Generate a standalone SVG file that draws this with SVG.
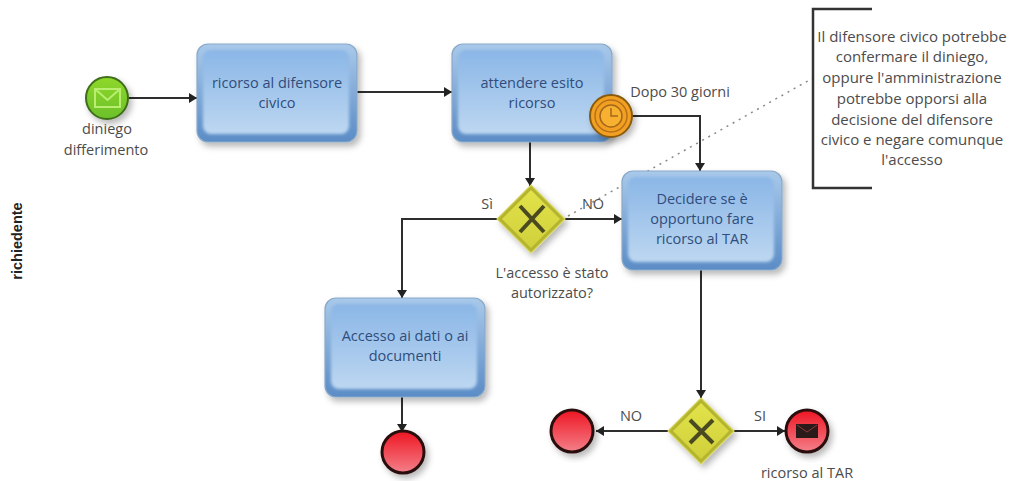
<svg xmlns="http://www.w3.org/2000/svg" width="1011" height="481" viewBox="0 0 1011 481">
<style>
text{font-family:"Open Sans","Liberation Sans",sans-serif;text-anchor:middle}
.t{font-size:14.5px;fill:#2f4d7c}
.l{font-size:14.5px;fill:#4c4c4c}
.a{font-size:15px;fill:#4c4c4c}
.c{fill:none;stroke:#2e2e2e;stroke-width:2}
.task{fill:url(#tb);stroke:#8aa9c9;stroke-width:1.2;filter:url(#sh)}
.in{fill:url(#ti);filter:url(#soft)}
.gw{fill:#b4b42e;stroke:#d5d55a;stroke-width:1.2;filter:url(#sh)}
.gi{fill:url(#gg)}
.x{stroke:#4a4a20;stroke-width:4;fill:none}
.end{fill:url(#eg);stroke:#2a1010;stroke-width:3;filter:url(#sh)}
</style>
<defs>
<linearGradient id="tb" x1="0" y1="0" x2="0" y2="1"><stop offset="0" stop-color="#a9c9ea"/><stop offset="1" stop-color="#5b8cc6"/></linearGradient>
<linearGradient id="ti" x1="0" y1="0" x2="0" y2="1"><stop offset="0" stop-color="#8ab6e6"/><stop offset="1" stop-color="#bdd7f1"/></linearGradient>
<linearGradient id="gg" x1="0" y1="0" x2="0" y2="1"><stop offset="0" stop-color="#e2e24a"/><stop offset="1" stop-color="#d0d03c"/></linearGradient>
<linearGradient id="eg" x1="0" y1="0" x2="0" y2="1"><stop offset="0" stop-color="#ee1522"/><stop offset="1" stop-color="#f4808a"/></linearGradient>
<linearGradient id="sg" x1="0" y1="0" x2="0" y2="1"><stop offset="0" stop-color="#8fd82a"/><stop offset="1" stop-color="#6cc02a"/></linearGradient>
<filter id="sh" x="-20%" y="-20%" width="145%" height="145%"><feDropShadow dx="3" dy="4" stdDeviation="3" flood-color="#000" flood-opacity=".28"/></filter>
<filter id="soft" x="-5%" y="-5%" width="110%" height="110%"><feGaussianBlur stdDeviation="1.500"/></filter>
<marker id="a" markerWidth="9" markerHeight="10" refX="8" refY="5" orient="auto" markerUnits="userSpaceOnUse"><path d="M0 0L8 5L0 10z" fill="#222"/></marker>
</defs>
<rect width="1011" height="481" fill="#fff"/>
<text transform="translate(22 241) rotate(-90)" style="font-family:'Liberation Sans',sans-serif;font-size:14.5px;font-weight:700;fill:#222">richiedente</text>
<g id="connectors">
<path class="c" d="M129 98H197" marker-end="url(#a)"/>
<path class="c" d="M357 92H452" marker-end="url(#a)"/>
<path class="c" d="M530 142V186" marker-end="url(#a)"/>
<path class="c" d="M632 116H700V171" marker-end="url(#a)"/>
<path class="c" d="M565 219H622" marker-end="url(#a)"/>
<path class="c" d="M497 219H402V298" marker-end="url(#a)"/>
<path class="c" d="M402 397V432" marker-end="url(#a)"/>
<path class="c" d="M701 270V398" marker-end="url(#a)"/>
<path class="c" d="M668 431H596" marker-end="url(#a)"/>
<path class="c" d="M734 431H785" marker-end="url(#a)"/>
<path d="M568 216L813 78" fill="none" stroke="#888" stroke-width="1.5" stroke-dasharray="2 5"/>
</g>
<g id="start">
<circle cx="107" cy="98" r="21" fill="url(#sg)" stroke="#3f6d1a" stroke-width="2" filter="url(#sh)"/>
<path d="M95 89H120V107H95zM95 89L107.500 100L120 89" fill="none" stroke="#b9ee70" stroke-width="2"/>
<text class="l" x="107" y="134">diniego</text><text class="l" x="106" y="155">differimento</text>
</g>
<g id="task1">
<rect class="task" x="197" y="44" width="160" height="98" rx="11"/>
<rect class="in" x="203" y="50" width="146" height="84" rx="8"/>
<text class="t" x="277" y="88">ricorso al difensore</text><text class="t" x="277" y="108">civico</text>
</g>
<g id="task2">
<rect class="task" x="452" y="44" width="160" height="98" rx="11"/>
<rect class="in" x="458" y="50" width="146" height="84" rx="8"/>
<text class="t" x="532" y="88">attendere esito</text><text class="t" x="532" y="108">ricorso</text>
</g>
<g id="timer">
<circle cx="611" cy="116" r="21" fill="#f2a020" stroke="#8a5a10" stroke-width="2" filter="url(#sh)"/>
<circle cx="611" cy="116" r="16" fill="none" stroke="#b8701a" stroke-width="1.500"/>
<circle cx="611" cy="116" r="11" fill="#f7b030" stroke="#a5681a" stroke-width="1.500"/>
<path d="M611 108V116H618" fill="none" stroke="#a5681a" stroke-width="1.500"/>
<text class="l" x="680" y="97">Dopo 30 giorni</text>
</g>
<g id="gateway1">
<path class="gw" d="M531 185L565 219L531 253L497 219z"/>
<path class="gi" d="M531 190L560 219L531 248L502 219z"/>
<path class="x" d="M520 206L544 232M544 206L520 232"/>
<text class="l" x="487" y="209">Sì</text><text class="l" x="593" y="209">NO</text>
<text class="l" x="552" y="278">L'accesso è stato</text><text class="l" x="552" y="298">autorizzato?</text>
</g>
<g id="task3">
<rect class="task" x="622" y="171" width="160" height="99" rx="11"/>
<rect class="in" x="628" y="177" width="146" height="85" rx="8"/>
<text class="t" x="702" y="204">Decidere se è</text><text class="t" x="702" y="224">opportuno fare</text><text class="t" x="702" y="244">ricorso al TAR</text>
</g>
<g id="task4">
<rect class="task" x="325" y="298" width="160" height="99" rx="11"/>
<rect class="in" x="331" y="304" width="146" height="85" rx="8"/>
<text class="t" x="405" y="341">Accesso ai dati o ai</text><text class="t" x="405" y="361">documenti</text>
</g>
<g id="end1"><circle class="end" cx="403" cy="452" r="21"/></g>
<g id="gateway2">
<path class="gw" d="M701 398L734 431L701 464L668 431z"/>
<path class="gi" d="M701 403L729 431L701 459L673 431z"/>
<path class="x" d="M690 420L713 443M713 420L690 443"/>
<text class="l" x="631" y="421">NO</text><text class="l" x="760" y="421">SI</text>
</g>
<g id="end2"><circle class="end" cx="572" cy="431" r="21"/></g>
<g id="end3">
<circle class="end" cx="807" cy="431" r="21"/>
<path d="M796 424H818V438H796z" fill="#2a1a1a"/>
<path d="M797 425L807 432L817 425" fill="none" stroke="#8a3a3a" stroke-width="1"/>
<text class="l" x="807" y="478">ricorso al TAR</text>
</g>
<g id="annotation">
<path d="M872 9H813V188H872" fill="none" stroke="#333" stroke-width="2.500"/>
<text class="a" x="912" y="42">Il difensore civico potrebbe</text>
<text class="a" x="912" y="62">confermare il diniego,</text>
<text class="a" x="912" y="83">oppure l'amministrazione</text>
<text class="a" x="912" y="104">potrebbe opporsi alla</text>
<text class="a" x="912" y="125">decisione del difensore</text>
<text class="a" x="912" y="145">civico e negare comunque</text>
<text class="a" x="912" y="165">l'accesso</text>
</g>
</svg>
